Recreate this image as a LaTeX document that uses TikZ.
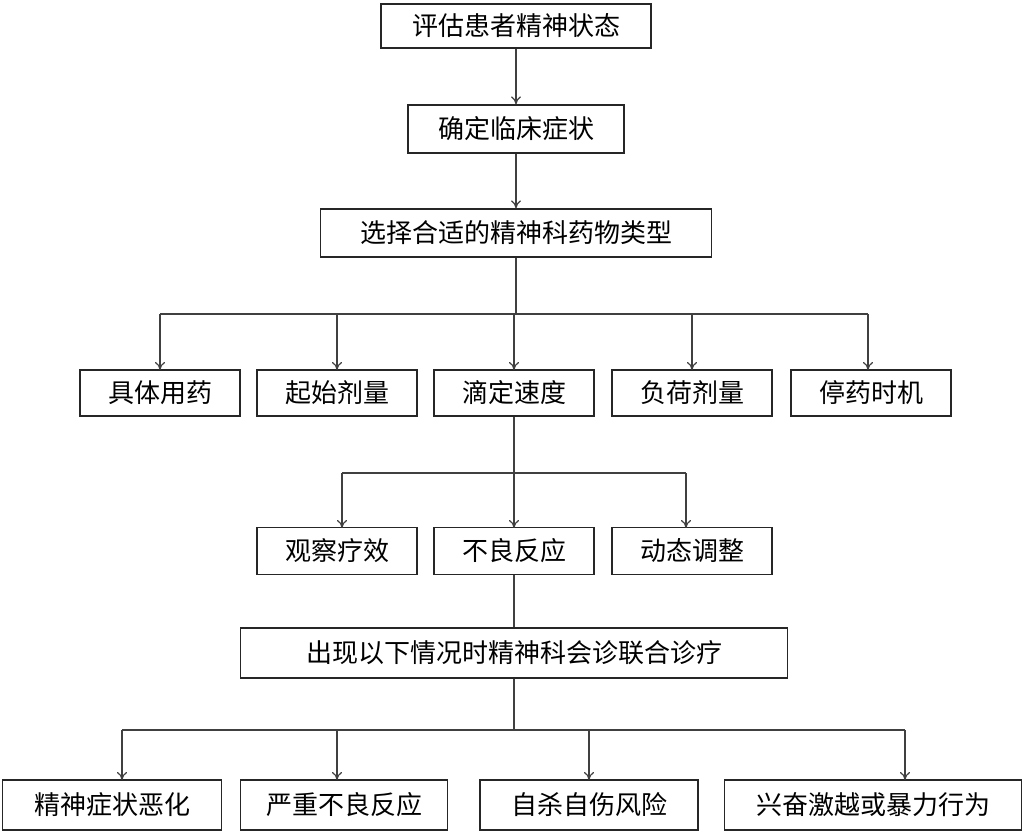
\documentclass[tikz,border=0pt]{standalone}
\usepackage{fontspec}
\usetikzlibrary{arrows.meta}
\newfontfamily\cjk{Noto Sans CJK SC}
\begin{document}
\begin{tikzpicture}[x=1pt,y=-1pt,
 bx/.style={draw=black!85,line width=1.3pt,font=\cjk\fontsize{26}{30}\selectfont,inner sep=0pt,minimum height=46pt},
 ln/.style={draw=black!75,line width=1.2pt},
 ar/.style={ln,-{To[length=8pt,width=10pt]}}]
\useasboundingbox[fill=white] (0,0) rectangle (1025,834);
\node[bx,minimum width=270pt,minimum height=44pt] (a) at (516,26) {评估患者精神状态};
\node[bx,minimum width=216pt,minimum height=48pt] (b) at (516,129) {确定临床症状};
\node[bx,minimum width=391pt,minimum height=48pt] (c) at (516,233) {选择合适的精神科药物类型};
\foreach \n/\x/\t in {d1/160/具体用药,d2/337/起始剂量,d3/514/滴定速度,d4/692/负荷剂量,d5/871/停药时机}
  \node[bx,minimum width=160pt] (\n) at (\x,393) {\t};
\foreach \n/\x/\t in {e1/337/观察疗效,e2/514/不良反应,e3/692/动态调整}
  \node[bx,minimum width=160pt,minimum height=47pt] (\n) at (\x,551) {\t};
\node[bx,minimum width=547pt,minimum height=50pt] (f) at (514,653) {出现以下情况时精神科会诊联合诊疗};
\node[bx,minimum width=219pt,minimum height=50pt] (g1) at (112,805) {精神症状恶化};
\node[bx,minimum width=207pt,minimum height=50pt] (g2) at (344,805) {严重不良反应};
\node[bx,minimum width=218pt,minimum height=50pt] (g3) at (589,805) {自杀自伤风险};
\node[bx,minimum width=297pt,minimum height=50pt] (g4) at (873,805) {兴奋激越或暴力行为};
\draw[ar] (a) -- (b);
\draw[ar] (b) -- (c);
\coordinate (j1) at (516,314);
\draw[ln] (c) -- (j1);
\draw[ln] (160,314) -- (868,314);
\foreach \n/\x in {d1/160,d2/337,d3/514,d4/692,d5/868}
  \draw[ar] (\x,314) -- (\x,370);
\coordinate (j2) at (514,473);
\draw[ln] (d3) -- (j2);
\draw[ln] (342,473) -- (686,473);
\foreach \x in {342,514,686}
  \draw[ar] (\x,473) -- (\x,528);
\draw[ln] (e2) -- (f);
\coordinate (j3) at (514,730);
\draw[ln] (f) -- (j3);
\draw[ln] (122,730) -- (905,730);
\foreach \x in {122,337,589,905}
  \draw[ar] (\x,730) -- (\x,780);
\end{tikzpicture}
\end{document}
